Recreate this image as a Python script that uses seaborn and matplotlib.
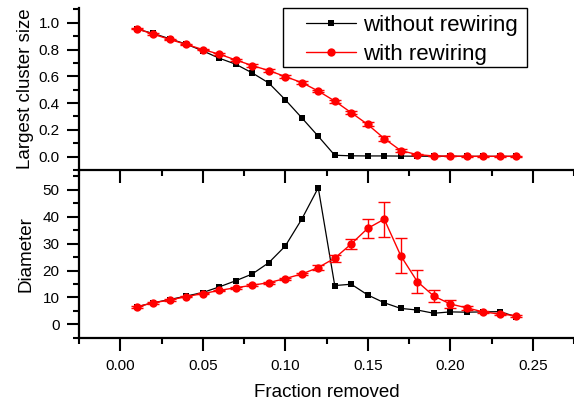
import matplotlib
matplotlib.use("Agg")
import matplotlib.pyplot as plt
import seaborn as sns
import numpy as np
import pandas as pd
from matplotlib.ticker import MultipleLocator
from matplotlib.patches import Rectangle

# ---- data ----
fraction = [0.01, 0.02, 0.03, 0.04, 0.05, 0.06, 0.07, 0.08, 0.09, 0.10, 0.11, 0.12,
            0.13, 0.14, 0.15, 0.16, 0.17, 0.18, 0.19, 0.20, 0.21, 0.22, 0.23, 0.24]

size_without = [0.953, 0.92, 0.88, 0.84, 0.79, 0.735, 0.69, 0.625, 0.55, 0.425, 0.29, 0.152,
                0.01, 0.006, 0.005, 0.005, 0.004, 0.003, 0.003, 0.003, 0.002, 0.002, 0.002, 0.002]
size_with = [0.955, 0.915, 0.875, 0.838, 0.80, 0.765, 0.722, 0.68, 0.643, 0.598, 0.553, 0.49,
             0.415, 0.328, 0.24, 0.135, 0.045, 0.015, 0.005, 0.003, 0.002, 0.002, 0.002, 0.002]
size_with_err = [0.005, 0.005, 0.006, 0.006, 0.007, 0.007, 0.008, 0.008, 0.008, 0.009, 0.009, 0.01,
                 0.011, 0.012, 0.015, 0.02, 0.013, 0.006, 0.003, 0.002, 0.002, 0.002, 0.002, 0.002]

diam_without = [6.5, 8.0, 9.2, 10.5, 11.8, 13.9, 16.2, 18.7, 22.9, 29.1, 39.1, 50.8,
                14.4, 14.9, 10.9, 8.0, 5.9, 5.3, 4.1, 4.6, 4.5, 4.6, 4.7, 2.8]
diam_with = [6.5, 8.0, 9.0, 10.3, 11.4, 12.6, 13.6, 14.5, 15.5, 17.0, 18.7, 21.1,
             24.6, 29.9, 35.7, 39.1, 25.5, 15.9, 10.5, 7.55, 6.1, 4.6, 3.8, 3.2]
diam_with_err = [0.3, 0.3, 0.3, 0.3, 0.3, 0.3, 0.3, 0.3, 0.4, 0.4, 0.5, 0.8,
                 1.3, 1.8, 3.5, 6.5, 6.5, 4.2, 2.4, 1.4, 0.8, 0.5, 0.4, 0.4]

labels = ["without rewiring", "with rewiring"]
xticks = [0.00, 0.05, 0.10, 0.15, 0.20, 0.25]

sns.set_theme(style="ticks")
plt.rcParams['font.family'] = ['Liberation Sans', 'DejaVu Sans']
plt.rcParams['text.color'] = 'black'
plt.rcParams['axes.labelcolor'] = 'black'
plt.rcParams['xtick.color'] = 'black'
plt.rcParams['ytick.color'] = 'black'

W, H = 574, 404
fig = plt.figure(figsize=(W / 100, H / 100), dpi=100)
left = 79 / W
ax1 = fig.add_axes([left, 1 - 170 / H, 1 - left, (170 - 8) / H])
ax2 = fig.add_axes([left, 1 - 337.7 / H, 1 - left, (337.7 - 170) / H])

df1 = pd.DataFrame({"x": fraction, "a": size_without, "b": size_with})
df2 = pd.DataFrame({"x": fraction, "a": diam_without, "b": diam_with})

for ax, df, err in [(ax1, df1, size_with_err), (ax2, df2, diam_with_err)]:
    sns.lineplot(data=df, x="x", y="a", ax=ax, color="black", marker="s", markersize=5,
                 markeredgewidth=0, linewidth=0.9, label=labels[0], zorder=3)
    ax.errorbar(df["x"], df["b"], yerr=err, fmt="none", ecolor="#ff0000",
                elinewidth=1.0, capsize=4.5, capthick=1.0, zorder=4)
    sns.lineplot(data=df, x="x", y="b", ax=ax, color="#ff0000", marker="o", markersize=6,
                 markeredgewidth=0, linewidth=1.0, label=labels[1], zorder=5)
    ax.set_xlim(-0.025, 0.275)
    for s in ["top", "right"]:
        ax.spines[s].set_visible(False)
    for s in ["left", "bottom"]:
        ax.spines[s].set_linewidth(1.6)
        ax.spines[s].set_color("black")
    ax.xaxis.set_major_locator(MultipleLocator(0.05))
    ax.xaxis.set_minor_locator(MultipleLocator(0.025))
    ax.tick_params(axis="both", which="major", direction="out", length=9, width=1.5,
                   labelsize=11)
    ax.tick_params(axis="both", which="minor", direction="out", length=4.5, width=1.5)
    ax.tick_params(axis="y", which="major", pad=5)
    ax.tick_params(axis="x", which="major", pad=6)
    ax.set_facecolor("none")

ax1.set_ylim(-0.1, 1.11)
ax1.yaxis.set_major_locator(MultipleLocator(0.2))
ax1.yaxis.set_minor_locator(MultipleLocator(0.1))
ax1.tick_params(axis="x", labelbottom=False)
ax1.set_xlabel("")
ax1.set_ylabel("Largest cluster size", fontsize=13.5, labelpad=3)

ax2.set_ylim(-5, 57.4)
ax2.yaxis.set_major_locator(MultipleLocator(10))
ax2.yaxis.set_minor_locator(MultipleLocator(5))
ax2.set_xticks(xticks)
ax2.set_xticklabels([f"{t:.2f}" for t in xticks])
ax2.set_xlim(-0.025, 0.275)
ax2.set_xlabel("Fraction removed", fontsize=13.5, labelpad=8)
ax2.set_ylabel("Diameter", fontsize=13.5, labelpad=6)
ax2.get_legend().remove()

handles, labs = ax1.get_legend_handles_labels()
ax1.get_legend().remove()
leg = fig.legend(handles, labs, loc="upper left", bbox_to_anchor=(306 / W, 1 - 15 / H),
                 frameon=False, fontsize=16, handlelength=2.25, handletextpad=0.3,
                 borderpad=0, borderaxespad=0, labelspacing=0.35)
fig.patches.append(Rectangle((283 / W, 1 - 66.7 / H), (527 - 283) / W, (66.7 - 7.7) / H,
                             transform=fig.transFigure, fill=False, edgecolor="black",
                             linewidth=1.0, zorder=10))

fig.savefig("out.png", dpi=100)
